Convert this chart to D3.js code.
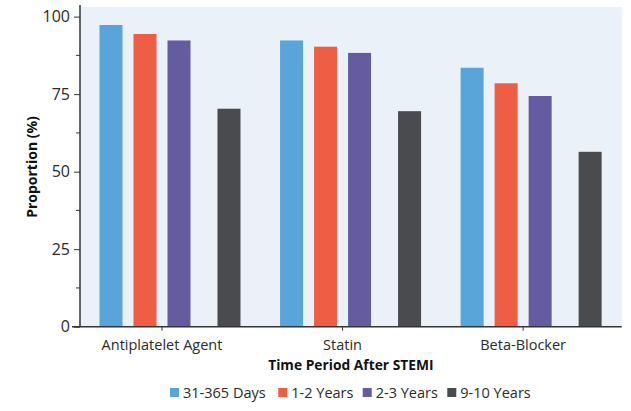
<!DOCTYPE html>
<html>
<head>
<meta charset="utf-8">
<script src="https://cdn.jsdelivr.net/npm/d3@7"></script>
<style>
  body { margin: 0; background: #fff; }
  text { font-family: "Open Sans", sans-serif; fill: #2b2b2b; }
</style>
</head>
<body>
<svg width="631" height="411"></svg>
<script>
// chart data
var categories = ["Antiplatelet Agent", "Statin", "Beta-Blocker"];
var periods = ["31-365 Days", "1-2 Years", "2-3 Years", "9-10 Years"];
var days31to365 = [97.3, 92.3, 83.5];
var years1to2 = [94.4, 90.3, 78.5];
var years2to3 = [92.3, 88.3, 74.4];
var years9to10 = [70.3, 69.5, 56.4];
var yTicks = [0, 25, 50, 75, 100];

var seriesValues = [days31to365, years1to2, years2to3, years9to10];
var colors = ["#59a4d9", "#ee5d44", "#645ba0", "#4a4b4e"];

var svg = d3.select("svg");
var plotLeft = 80, plotRight = 621.7, plotTop = 7, plotBottom = 326.7;

var x0 = d3.scaleBand()
  .domain(categories)
  .range([plotLeft, plotRight]);

// the last period sits a bit further out than the others
var slot = d3.scaleOrdinal().domain(periods).range([0, 1, 2, 3.47]);
var x1 = d3.scaleLinear().domain([0, 1]).range([19.5, 53.5]);
var barWidth = 23;

var y = d3.scaleLinear()
  .domain([0, 103.1])
  .range([plotBottom, plotTop]);

// background panel
svg.append("rect")
  .attr("x", plotLeft)
  .attr("y", plotTop)
  .attr("width", plotRight - plotLeft)
  .attr("height", plotBottom - plotTop)
  .attr("fill", "#ebf1f9");

// bars
periods.forEach(function(p, i){
  svg.append("g").selectAll("rect")
    .data(seriesValues[i])
    .enter()
    .append("rect")
    .attr("x", function(d, j){ return x0(categories[j]) + x1(slot(p)); })
    .attr("y", function(d){ return y(d); })
    .attr("width", barWidth)
    .attr("height", function(d){ return plotBottom - y(d); })
    .attr("fill", colors[i]);
});

// y axis
var yAxis = svg.append("g")
  .attr("transform", "translate(" + plotLeft + ",0)")
  .call(d3.axisLeft(y).tickValues(yTicks).tickSize(6).tickPadding(4));
yAxis.append("g").selectAll("line")
  .data([12.5, 37.5, 62.5, 87.5])
  .enter()
  .append("line")
  .attr("x1", -4).attr("x2", 0)
  .attr("y1", function(d){ return y(d); })
  .attr("y2", function(d){ return y(d); })
  .attr("stroke", "#333");
yAxis.select(".domain").attr("d", "M0," + (plotTop - 2) + "V" + plotBottom).attr("stroke", "#333").attr("stroke-width", 1.5);
yAxis.selectAll(".tick line").attr("stroke", "#333");
yAxis.selectAll(".tick text").style("font-size", "16px").style("font-family", "Open Sans, sans-serif").attr("fill", "#2b2b2b");

// x axis, tick sits halfway through the first three bars
var xAxis = svg.append("g")
  .attr("transform", "translate(0," + plotBottom + ")");
xAxis.append("line")
  .attr("x1", plotLeft - 8).attr("x2", plotRight)
  .attr("stroke", "#333").attr("stroke-width", 1.5);
var xt = xAxis.selectAll(".xt")
  .data(categories)
  .enter()
  .append("g")
  .attr("transform", function(d){ return "translate(" + (x0(d) + x1(1.5) + barWidth / 2) + ",0)"; });
xt.append("line").attr("y2", 4).attr("stroke", "#333");
xt.append("text")
  .attr("y", 23)
  .attr("text-anchor", "middle")
  .style("font-size", "14.5px")
  .text(function(d){ return d; });

// axis titles
svg.append("text")
  .attr("x", (plotLeft + plotRight) / 2)
  .attr("y", 370)
  .attr("text-anchor", "middle")
  .style("font-size", "13.8px")
  .style("font-weight", "bold")
  .style("fill", "#111")
  .text("Time Period After STEMI");

svg.append("text")
  .attr("transform", "translate(37,167) rotate(-90)")
  .attr("text-anchor", "middle")
  .style("font-size", "14px")
  .style("font-weight", "bold")
  .style("fill", "#111")
  .text("Proportion (%)");

// legend
var legendX = [170, 278.3, 362.7, 447.3];
var lg = svg.selectAll(".lg")
  .data(periods)
  .enter()
  .append("g")
  .attr("transform", function(d, i){ return "translate(" + legendX[i] + ",388)"; });
lg.append("rect")
  .attr("width", 9).attr("height", 9)
  .attr("fill", function(d, i){ return colors[i]; });
lg.append("text")
  .attr("x", 13)
  .attr("y", 10)
  .style("font-size", "14.5px")
  .text(function(d){ return d; });
</script>
</body>
</html>
